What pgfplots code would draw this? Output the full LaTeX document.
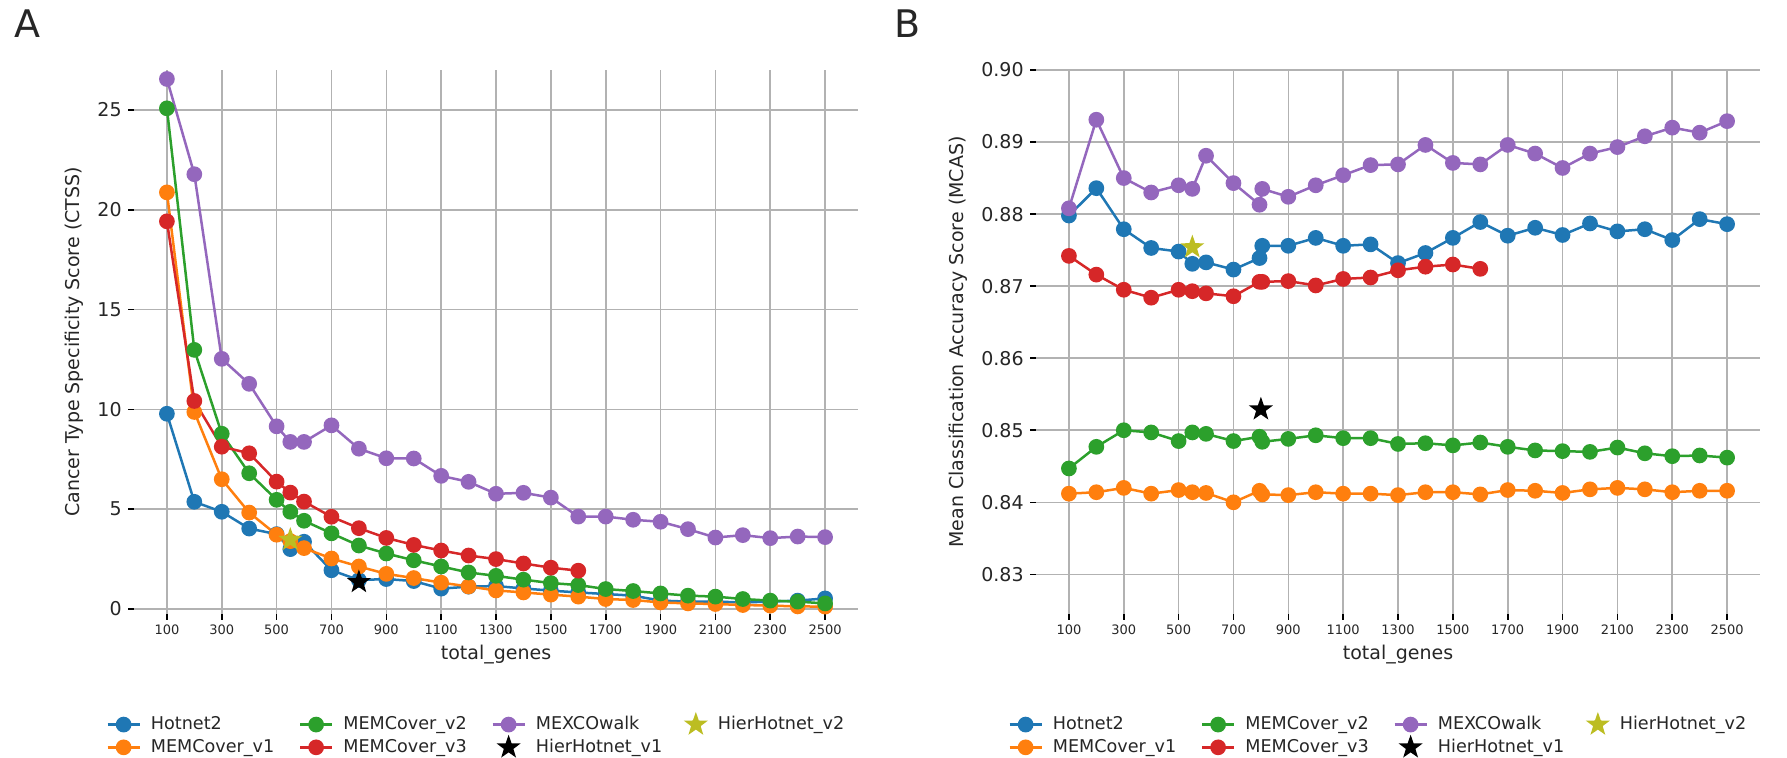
\documentclass[border=0pt]{standalone}
\usepackage{fontspec}
\setmainfont{DejaVu Sans}
\usepackage{pgfplots}
\pgfplotsset{compat=1.18}
\definecolor{c0}{HTML}{1F77B4}
\definecolor{c1}{HTML}{FF7F0E}
\definecolor{c2}{HTML}{2CA02C}
\definecolor{c3}{HTML}{D62728}
\definecolor{c4}{HTML}{9467BD}
\definecolor{colive}{HTML}{BCBD22}
\definecolor{txt}{HTML}{262626}
\pgfdeclareplotmark{fstar}{%
  \pgfpathmoveto{\pgfpointpolar{90}{\pgfplotmarksize}}%
  \pgfpathlineto{\pgfpointpolar{126}{0.40\pgfplotmarksize}}%
  \pgfpathlineto{\pgfpointpolar{162}{\pgfplotmarksize}}%
  \pgfpathlineto{\pgfpointpolar{198}{0.40\pgfplotmarksize}}%
  \pgfpathlineto{\pgfpointpolar{234}{\pgfplotmarksize}}%
  \pgfpathlineto{\pgfpointpolar{270}{0.40\pgfplotmarksize}}%
  \pgfpathlineto{\pgfpointpolar{306}{\pgfplotmarksize}}%
  \pgfpathlineto{\pgfpointpolar{342}{0.40\pgfplotmarksize}}%
  \pgfpathlineto{\pgfpointpolar{18}{\pgfplotmarksize}}%
  \pgfpathlineto{\pgfpointpolar{54}{0.40\pgfplotmarksize}}%
  \pgfpathclose
  \pgfusepathqfill}
\pgfplotsset{
  legend image code/.code={\draw[mark repeat=2,mark phase=2,#1] plot coordinates {(0pt,0pt) (8pt,0pt) (16pt,0pt)};},
  ser/.style={line width=1.25pt, mark=*, mark size=3.3pt, mark options={solid}},
  starser/.style={only marks, mark=fstar, mark size=6.3pt},
  myax/.style={
    scale only axis, width=362pt, height=272pt, anchor=north west,
    xmin=-20, xmax=2620,
    xtick={100,300,...,2500},
    grid=major, grid style={draw=black!30, line width=0.8pt},
    axis line style={draw=none},
    tick pos=left, tick align=outside,
    major tick length=3pt,
    tick style={black, line width=0.8pt},
    /pgf/number format/assume math mode=true,
    /pgf/number format/1000 sep={},
    xticklabel style={font=\fontsize{6.5}{7.8}\selectfont, text=txt, inner sep=2pt},
    yticklabel style={font=\fontsize{9.5}{11.4}\selectfont, text=txt, inner sep=3pt},
    label style={font=\fontsize{9.5}{11.4}\selectfont, text=txt},
    xlabel={total\_genes},
    xlabel style={at={(axis description cs:0.5,-0.074)}, anchor=center},
    legend columns=4,
    legend cell align=left,
    legend style={draw=none, fill=none, at={(axis description cs:-0.047,-0.172)}, anchor=north west,
      font=\fontsize{8.8}{10}\selectfont, text=txt, row sep=-1pt,
      /tikz/every odd column/.append style={column sep=3pt},
      /tikz/every even column/.append style={column sep=9pt}},
  }
}
\newcommand{\legs}{%
  \addlegendimage{ser, color=c0}\addlegendentry{\makebox[63pt][l]{Hotnet2}}
  \addlegendimage{ser, color=c2}\addlegendentry{\makebox[63pt][l]{MEMCover\_v2}}
  \addlegendimage{ser, color=c4}\addlegendentry{\makebox[63pt][l]{MEXCOwalk}}
  \addlegendimage{starser, color=colive}\addlegendentry{\makebox[63pt][l]{HierHotnet\_v2}}
  \addlegendimage{ser, color=c1}\addlegendentry{\makebox[63pt][l]{MEMCover\_v1}}
  \addlegendimage{ser, color=c3}\addlegendentry{\makebox[63pt][l]{MEMCover\_v3}}
  \addlegendimage{starser, color=black}\addlegendentry{\makebox[63pt][l]{HierHotnet\_v1}}
}
\begin{document}
\begin{tikzpicture}
\path[use as bounding box] (0,0) rectangle (893.5pt,-379pt);
\node[font=\fontsize{19}{22}\selectfont, text=txt] at (13.5pt,-12pt) {A};
\node[font=\fontsize{19}{22}\selectfont, text=txt] at (454pt,-12pt) {B};
% ---------------- Panel A ----------------
\begin{axis}[myax, at={(67pt,-35pt)},
  ymin=-0.25, ymax=27, ytick={0,5,...,25},
  ylabel={Cancer Type Specificity Score (CTSS)},
  ylabel style={at={(axis description cs:-0.082,0.5)}, anchor=center}]
\addplot[ser, color=c0, forget plot] coordinates {
(100,9.78)(200,5.37)(300,4.87)(400,4.03)(500,3.75)(550,3.0)(600,3.37)(700,1.94)(800,1.45)(900,1.5)(1000,1.40)(1100,1.02)(1200,1.12)(1300,1.15)(1400,1.03)(1500,0.92)(1600,0.83)(1700,0.75)(1800,0.67)(1900,0.42)(2000,0.37)(2100,0.37)(2200,0.33)(2300,0.37)(2400,0.42)(2500,0.53)};
\addplot[ser, color=c1, forget plot] coordinates {
(100,20.87)(200,9.87)(300,6.5)(400,4.83)(500,3.72)(550,3.4)(600,3.05)(700,2.53)(800,2.13)(900,1.76)(1000,1.55)(1100,1.32)(1200,1.13)(1300,0.93)(1400,0.83)(1500,0.72)(1600,0.62)(1700,0.5)(1800,0.45)(1900,0.33)(2000,0.28)(2100,0.25)(2200,0.2)(2300,0.17)(2400,0.13)(2500,0.12)};
\addplot[ser, color=c2, forget plot] coordinates {
(100,25.08)(200,12.98)(300,8.78)(400,6.8)(500,5.47)(550,4.87)(600,4.42)(700,3.79)(800,3.18)(900,2.78)(1000,2.44)(1100,2.13)(1200,1.83)(1300,1.66)(1400,1.47)(1500,1.3)(1600,1.2)(1700,1.0)(1800,0.9)(1900,0.78)(2000,0.67)(2100,0.62)(2200,0.5)(2300,0.42)(2400,0.37)(2500,0.28)};
\addplot[ser, color=c3, forget plot] coordinates {
(100,19.42)(200,10.42)(300,8.13)(400,7.8)(500,6.38)(550,5.83)(600,5.38)(700,4.62)(800,4.05)(900,3.56)(1000,3.21)(1100,2.93)(1200,2.68)(1300,2.5)(1400,2.28)(1500,2.07)(1600,1.92)};
\addplot[ser, color=c4, forget plot] coordinates {
(100,26.55)(200,21.78)(300,12.53)(400,11.28)(500,9.15)(550,8.37)(600,8.37)(700,9.2)(800,8.03)(900,7.55)(1000,7.54)(1100,6.67)(1200,6.37)(1300,5.77)(1400,5.82)(1500,5.58)(1600,4.63)(1700,4.63)(1800,4.47)(1900,4.37)(2000,4.0)(2100,3.58)(2200,3.7)(2300,3.55)(2400,3.63)(2500,3.6)};
\addplot[starser, color=black, forget plot] coordinates {(800,1.35)};
\addplot[starser, color=colive, forget plot] coordinates {(550,3.47)};
\legs
\end{axis}
% ---------------- Panel B ----------------
\begin{axis}[myax, at={(518pt,-35pt)},
  ymin=0.8245, ymax=0.90, ytick={0.83,0.84,0.85,0.86,0.87,0.88,0.89,0.90},
  yticklabel style={/pgf/number format/fixed, /pgf/number format/fixed zerofill, /pgf/number format/precision=2},
  ylabel={Mean Classification Accuracy Score (MCAS)},
  ylabel style={at={(axis description cs:-0.108,0.5)}, anchor=center}]
\addplot[ser, color=c0, forget plot] coordinates {
(100,0.8798)(200,0.8836)(300,0.8779)(400,0.8753)(500,0.8748)(550,0.8731)(600,0.8733)(700,0.8723)(795,0.8739)(805,0.8756)(900,0.8756)(1000,0.8767)(1100,0.8756)(1200,0.8758)(1300,0.8732)(1400,0.8746)(1500,0.8767)(1600,0.8789)(1700,0.8770)(1800,0.8781)(1900,0.8771)(2000,0.8787)(2100,0.8776)(2200,0.8779)(2300,0.8764)(2400,0.8793)(2500,0.8786)};
\addplot[ser, color=c1, forget plot] coordinates {
(100,0.8412)(200,0.8414)(300,0.8420)(400,0.8412)(500,0.8417)(550,0.8414)(600,0.8413)(700,0.8400)(795,0.8416)(805,0.8411)(900,0.8410)(1000,0.8414)(1100,0.8412)(1200,0.8412)(1300,0.8410)(1400,0.8414)(1500,0.8414)(1600,0.8411)(1700,0.8417)(1800,0.8416)(1900,0.8413)(2000,0.8418)(2100,0.8420)(2200,0.8418)(2300,0.8414)(2400,0.8416)(2500,0.8416)};
\addplot[ser, color=c2, forget plot] coordinates {
(100,0.8447)(200,0.8477)(300,0.8500)(400,0.8497)(500,0.8485)(550,0.8497)(600,0.8495)(700,0.8485)(795,0.8491)(805,0.8484)(900,0.8488)(1000,0.8493)(1100,0.8489)(1200,0.8489)(1300,0.8481)(1400,0.8482)(1500,0.8479)(1600,0.8483)(1700,0.8477)(1800,0.8472)(1900,0.8471)(2000,0.8470)(2100,0.8476)(2200,0.8468)(2300,0.8464)(2400,0.8465)(2500,0.8462)};
\addplot[ser, color=c3, forget plot] coordinates {
(100,0.8742)(200,0.8716)(300,0.8695)(400,0.8684)(500,0.8695)(550,0.8693)(600,0.8690)(700,0.8686)(795,0.8706)(805,0.8706)(900,0.8707)(1000,0.8701)(1100,0.8710)(1200,0.8712)(1300,0.8722)(1400,0.8727)(1500,0.8730)(1600,0.8724)};
\addplot[ser, color=c4, forget plot] coordinates {
(100,0.8808)(200,0.8931)(300,0.8850)(400,0.8830)(500,0.8840)(550,0.8835)(600,0.8881)(700,0.8843)(795,0.8813)(805,0.8835)(900,0.8824)(1000,0.8840)(1100,0.8854)(1200,0.8868)(1300,0.8869)(1400,0.8896)(1500,0.8871)(1600,0.8869)(1700,0.8896)(1800,0.8884)(1900,0.8864)(2000,0.8884)(2100,0.8893)(2200,0.8908)(2300,0.8920)(2400,0.8913)(2500,0.8929)};
\addplot[starser, color=black, forget plot] coordinates {(800,0.8529)};
\addplot[starser, color=colive, forget plot] coordinates {(550,0.8754)};
\legs
\end{axis}
\end{tikzpicture}
\end{document}
